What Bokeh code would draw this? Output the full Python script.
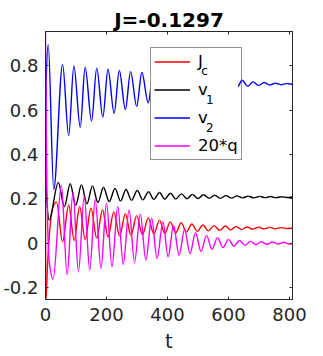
import numpy as np
from bokeh.plotting import figure
from bokeh.models import Range1d, FixedTicker, LinearAxis, Legend, LegendItem
from bokeh.core.properties import value
from bokeh.embed import file_html
from bokeh.resources import INLINE

# ---------------- data ----------------
TITLE = "J=-0.1297"
X_LABEL = "t"
x_ticks = [0, 200, 400, 600, 800]
x_tick_labels = ["0", "200", "400", "600", "800"]
y_ticks = [-0.2, 0, 0.2, 0.4, 0.6, 0.8]
y_tick_labels = ["-0.2", "0", "0.2", "0.4", "0.6", "0.8"]

legend_names = ["J", "v", "v", "20*q"]
legend_subs = ["c", "1", "2", ""]
series_colors = ["#ff0000", "#000000", "#0000ff", "#ff00ff"]

# Jc (red): start, transient, then alternating peaks / troughs
jc_t = [0, 1.2, 7, 14, 22, 36, 56, 76, 94, 112, 130, 149, 168, 187, 205, 224, 243,
        262, 280, 299, 318, 337, 355, 374, 391, 409, 427, 445, 462, 480, 498, 516,
        534, 553, 571, 590, 607, 625, 643, 661, 680, 699, 717, 735, 753, 772, 790, 810]
jc_v = [0.145, -0.252, -0.09, 0.06, 0.15, 0.186, 0.006, 0.172, 0.012, 0.165, 0.017,
        0.158, 0.023, 0.152, 0.028, 0.141, 0.032, 0.133, 0.035, 0.124, 0.038, 0.114,
        0.041, 0.104, 0.043, 0.096, 0.046, 0.092, 0.050, 0.086, 0.053, 0.082, 0.056,
        0.079, 0.058, 0.077, 0.060, 0.075, 0.061, 0.073, 0.063, 0.072, 0.064, 0.071,
        0.065, 0.070, 0.066, 0.068]

# v1 (black)
v1_t = [0, 4, 12, 42, 62, 81, 99, 118, 136, 154, 172, 190, 209, 228, 246, 264, 282,
        301, 319, 338, 355, 374, 391, 410, 427, 446, 464, 482, 500, 518, 537, 555,
        573, 592, 610, 628, 646, 665, 683, 702, 720, 738, 756, 774, 792, 810]
v1_v = [0.42, 0.20, 0.104, 0.274, 0.164, 0.268, 0.171, 0.263, 0.177, 0.258, 0.183,
        0.252, 0.187, 0.247, 0.190, 0.242, 0.193, 0.237, 0.195, 0.232, 0.197, 0.228,
        0.198, 0.225, 0.199, 0.222, 0.200, 0.220, 0.201, 0.218, 0.202, 0.216, 0.202,
        0.214, 0.203, 0.213, 0.204, 0.212, 0.204, 0.211, 0.205, 0.210, 0.205, 0.209,
        0.206, 0.208]

# v2 (blue)
v2_t = [0, 2, 9, 27, 56, 76, 93, 114, 130, 151, 168, 188, 205, 225, 242, 262, 279,
        299, 316, 337, 353, 374, 390, 411, 427, 447, 464, 484, 500, 520, 537, 557,
        573, 593, 610, 628, 645, 663, 681, 699, 717, 735, 754, 772, 790, 810]
v2_v = [0.40, 0.72, 0.895, 0.242, 0.806, 0.484, 0.799, 0.522, 0.793, 0.550, 0.789,
        0.568, 0.784, 0.585, 0.778, 0.602, 0.773, 0.617, 0.769, 0.632, 0.766, 0.645,
        0.762, 0.656, 0.758, 0.666, 0.754, 0.675, 0.750, 0.683, 0.746, 0.690, 0.742,
        0.696, 0.738, 0.702, 0.734, 0.707, 0.727, 0.711, 0.724, 0.713, 0.721, 0.714,
        0.719, 0.716]

# 20*q (magenta)
q_t = [0, 1.5, 5, 12, 25, 52, 71, 90, 108, 127, 145, 163, 182, 200, 218, 237, 255,
       274, 292, 311, 329, 348, 366, 385, 402, 420, 438, 456, 474, 492, 510, 528,
       546, 564, 582, 600, 618, 636, 654, 672, 690, 708, 727, 745, 763, 781, 799, 810]
q_v = [0.953, 0.63, 0.20, -0.08, -0.162, 0.261, -0.142, 0.230, -0.130, 0.212, -0.122,
       0.197, -0.114, 0.180, -0.106, 0.165, -0.096, 0.150, -0.086, 0.132, -0.077,
       0.112, -0.069, 0.097, -0.062, 0.080, -0.055, 0.062, -0.047, 0.047, -0.037,
       0.035, -0.028, 0.025, -0.020, 0.017, -0.014, 0.012, -0.010, 0.008, -0.007,
       0.006, -0.005, 0.005, -0.004, 0.004, -0.004, -0.002]

series_t = [jc_t, v1_t, v2_t, q_t]
series_v = [jc_v, v1_v, v2_v, q_v]

X_RANGE = (0, 810)
Y_RANGE = (-0.254, 0.954)


# --------------- smooth curve segments through the read points ---------------
def bezier_segments(t, v):
    t = np.asarray(t, float)
    v = np.asarray(v, float)
    h = np.diff(t)
    d = np.diff(v) / h
    n = len(t)
    m = np.zeros(n)
    m[0] = d[0]
    m[-1] = d[-1]
    for k in range(1, n - 1):
        if d[k - 1] * d[k] > 0:
            w1 = 2 * h[k] + h[k - 1]
            w2 = h[k] + 2 * h[k - 1]
            m[k] = (w1 + w2) / (w1 / d[k - 1] + w2 / d[k])
    return dict(
        x0=t[:-1], y0=v[:-1], x1=t[1:], y1=v[1:],
        cx0=t[:-1] + h / 3, cy0=v[:-1] + m[:-1] * h / 3,
        cx1=t[1:] - h / 3, cy1=v[1:] - m[1:] * h / 3,
    )


AX = "#262626"
FONT = "DejaVu Sans"
W, H = 323, 356
BL, BR, BT, BB = 43, 31, 31, 57          # borders around the plot frame
FW, FH = W - BL - BR, H - BT - BB        # frame size in pixels


def px_to_x(px):
    return X_RANGE[0] + px / FW * (X_RANGE[1] - X_RANGE[0])


def px_to_y(py):
    return Y_RANGE[0] + py / FH * (Y_RANGE[1] - Y_RANGE[0])


p = figure(width=W, height=H,
           x_range=Range1d(*X_RANGE), y_range=Range1d(*Y_RANGE),
           output_backend="svg", toolbar_location=None, title=TITLE,
           min_border_left=BL, min_border_right=BR, min_border_top=BT,
           min_border_bottom=BB)

p.title.text_font = FONT
p.title.text_font_size = "20px"
p.title.text_font_style = "bold"
p.title.text_color = "#000000"
p.title.align = "center"
p.title.standoff = 0

p.grid.visible = False
p.outline_line_color = AX
p.outline_line_width = 1
p.background_fill_color = "white"
p.border_fill_color = "white"

p.xaxis.ticker = FixedTicker(ticks=x_ticks)
p.xaxis.major_label_overrides = {tk: lb for tk, lb in zip(x_ticks, x_tick_labels)}
p.yaxis.ticker = FixedTicker(ticks=y_ticks)
p.yaxis.major_label_overrides = {tk: lb for tk, lb in zip(y_ticks, y_tick_labels)}
p.xaxis.axis_label = X_LABEL
p.xaxis.axis_label_text_font = FONT
p.xaxis.axis_label_text_font_size = "20px"
p.xaxis.axis_label_text_font_style = "normal"
p.xaxis.axis_label_text_color = AX
p.xaxis.axis_label_standoff = 5
p.xaxis.major_label_standoff = 8
p.yaxis.major_label_standoff = 7

for ax in (p.xaxis, p.yaxis):
    ax.major_label_text_font = FONT
    ax.major_label_text_font_size = "18px"
    ax.major_label_text_color = AX
    ax.axis_line_color = AX
    ax.major_tick_line_color = AX
    ax.major_tick_in = 3
    ax.major_tick_out = 0
    ax.minor_tick_line_color = None

# box ticks on the top and right edges (no labels there)
for loc, tks in (("above", x_ticks), ("right", y_ticks)):
    extra = LinearAxis(ticker=FixedTicker(ticks=tks), major_label_text_font_size="1px",
                       major_label_text_alpha=0, major_label_text_color=None,
                       major_label_standoff=0, major_tick_in=3, major_tick_out=0,
                       minor_tick_line_color=None, axis_line_color=AX,
                       major_tick_line_color=AX)
    p.add_layout(extra, loc)

items = []
for name, col, tt, vv in zip(legend_names, series_colors, series_t, series_v):
    r = p.bezier(source=bezier_segments(tt, vv), x0="x0", y0="y0", x1="x1", y1="y1",
                 cx0="cx0", cy0="cy0", cx1="cx1", cy1="cy1",
                 line_color=col, line_width=1.4)
    items.append(LegendItem(label=name, renderers=[r], index=0))

# legend geometry (pixels from the frame's lower-left corner)
LEG_X, LEG_Y, PAD, ROW, GAP, GLW, STAND = 105, 139, 3, 21, 7, 36, 8
LEG_W = 2 * PAD + GLW + STAND + 39.7
LEG_H = 2 * PAD + 4 * ROW + 3 * GAP

# white legend background (drawn under the legend's own border and entries)
p.quad(left=[px_to_x(LEG_X + 0.5)], right=[px_to_x(LEG_X + LEG_W - 0.5)],
       bottom=[px_to_y(LEG_Y + 0.5)], top=[px_to_y(LEG_Y + LEG_H - 0.5)],
       fill_color="white", line_color=None)

# subscripts of the legend labels "J", "v", "v"
base_widths = [4.9, 9.8, 9.8]            # advance of "J" / "v" at 16.5px
text_x0 = LEG_X + PAD + GLW + STAND
sub_x, sub_y, sub_txt = [], [], []
for i, (sub, bw) in enumerate(zip(legend_subs, base_widths)):
    row_center = LEG_Y + LEG_H - PAD - ROW / 2 - i * (ROW + GAP)
    sub_x.append(px_to_x(text_x0 + bw))
    sub_y.append(px_to_y(row_center - 8))
    sub_txt.append(sub)
p.text(x=sub_x, y=sub_y, text=sub_txt, text_font=value(FONT),
       text_font_size=value("12px"), text_color="#000000",
       text_baseline="middle", text_align="left")

legend = Legend(items=items, location=(LEG_X, LEG_Y), orientation="vertical",
                label_text_font=FONT, label_text_font_size="16.5px",
                label_text_color="#000000", glyph_width=GLW, glyph_height=ROW,
                label_height=ROW, label_standoff=STAND, padding=PAD, spacing=GAP,
                margin=0, border_line_color=AX, border_line_width=1,
                background_fill_alpha=0.0)
p.add_layout(legend, "center")

open("out.html", "w").write(file_html(p, INLINE))
